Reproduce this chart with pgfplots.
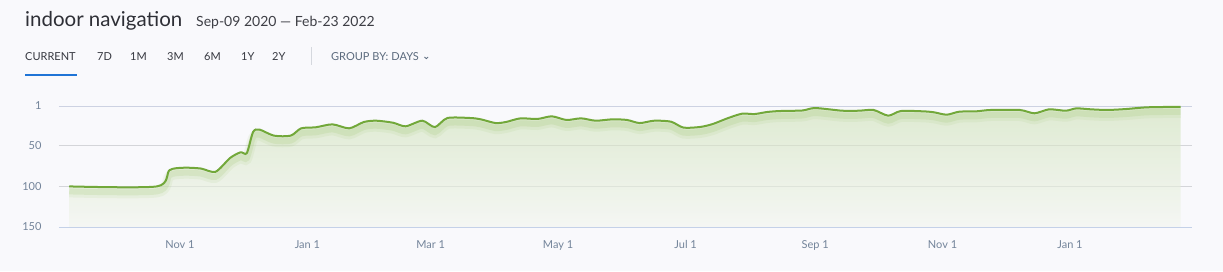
\documentclass[border=0pt]{standalone}
\usepackage{fontspec}
\setmainfont{Lato}
\usepackage{pgfplots}
\usepackage{pgfplotstable}
\pgfplotsset{compat=1.18}
\definecolor{bg}{HTML}{F9F9FC}
\definecolor{linegreen}{HTML}{72A83A}
\definecolor{glowgreen}{HTML}{9CC46A}
\definecolor{titlec}{HTML}{2E2F36}
\definecolor{datec}{HTML}{3E3F46}
\definecolor{tabc}{HTML}{363840}
\definecolor{groupc}{HTML}{5B6A7D}
\definecolor{tickc}{HTML}{73849A}
\definecolor{gridc}{HTML}{D4D5D9}
\definecolor{topgrid}{HTML}{CDD2E2}
\definecolor{basec}{HTML}{C4D1E8}
\definecolor{sepc}{HTML}{D5D8DE}
\definecolor{tabblue}{HTML}{1F74D6}
\definecolor{filltop}{RGB}{205,225,182}
\definecolor{fillbot}{RGB}{242,245,238}
\pgfplotstableread{
day rank
0 100
42 100
48 80
55 77
63 78
70 82
77 65
82 58
85 59
88 33
91 30
98 37.5
106 37.5
111 28.5
118 27.2
126 23.6
134 28.5
141 20.7
147 19.1
155 21.6
161 26
169 19.1
175 27
181 15.8
192 15.8
197 17.4
204 22
209 20.7
216 16.2
224 17
231 13.7
238 18.2
245 16.2
252 19.1
260 17.4
267 18.2
273 22
280 19.1
288 20.3
294 27.6
302 26.8
308 23.2
315 16.2
322 10.5
328 10.9
334 8.4
340 7.2
351 6.5
357 3.5
370 6.8
378 6.8
385 5.9
392 12.9
398 7.2
409 7.6
414 8.8
420 11.7
426 8
434 7.6
441 5.9
455 5.9
462 10
469 5.1
477 6.8
482 3.9
489 5.1
497 5.9
506 4.7
516 2.6
532 2
}\rankdata
\begin{document}
\begin{tikzpicture}
\fill[bg] (0,0) rectangle (1223pt,271pt);
\useasboundingbox (0,0) rectangle (1223pt,271pt);
% header
\node[anchor=base west, inner sep=0, text=titlec, font=\fontsize{20.5}{22}\selectfont] at (25pt,244pt) {indoor navigation};
\node[anchor=base west, inner sep=0, text=datec, font=\fontsize{14}{16}\selectfont] at (196pt,244pt) {Sep-09 2020 — Feb-23 2022};
\begin{scope}[every node/.style={anchor=base west, inner sep=0, text=tabc, font=\fontsize{11}{13}\selectfont}]
\node at (25pt,210pt) {CURRENT};
\node at (97pt,210pt) {7D};
\node at (130pt,210pt) {1M};
\node at (167pt,210pt) {3M};
\node at (204pt,210pt) {6M};
\node at (241pt,210pt) {1Y};
\node at (272pt,210pt) {2Y};
\node[text=groupc] at (331pt,210pt) {GROUP BY:\hspace{3pt}DAYS};
\end{scope}
\draw[groupc, line width=0.8pt] (424.5pt,214pt) -- (426.3pt,212.3pt) -- (428.1pt,214pt);
\fill[tabblue] (25pt,195pt) rectangle (77pt,197pt);
\draw[sepc, line width=1pt] (311pt,206pt) -- (311pt,224pt);
\begin{axis}[
  at={(59pt,44pt)}, anchor=south west,
  width=1133pt, height=121pt, scale only axis,
  xmin=-4.9, xmax=537.4, ymin=1, ymax=150, y dir=reverse,
  axis line style={draw=none},
  major tick length=0,
  xtick={53,114,173,234,295,357,418,479},
  xticklabels={Nov 1,Jan 1,Mar 1,May 1,Jul 1,Sep 1,Nov 1,Jan 1},
  ytick={50,100},
  extra y ticks={1,150},
  extra y tick style={grid=none},
  ymajorgrids,
  major grid style={gridc, line width=1pt},
  /pgf/number format/assume math mode=true,
  tick label style={text=tickc, font=\fontsize{11}{13}\selectfont},
  xticklabel style={anchor=base, yshift=-21pt},
  yticklabel style={anchor=east, xshift=-14pt},
  clip=false,
]
\draw[topgrid, line width=1pt] (axis cs:-4.9,1) -- (axis cs:537.4,1);
\addplot[draw=none, top color=filltop, bottom color=fillbot, fill opacity=0.6, smooth, tension=0.45]
  table[x=day,y=rank] {\rankdata} -- (axis cs:532,150) -- (axis cs:0,150) -- cycle;
\draw[basec, line width=1pt] (axis cs:-4.9,150) -- (axis cs:537.4,150);
\addplot[glowgreen, line width=10pt, opacity=0.10, smooth, tension=0.45, yshift=-6pt] table[x=day,y=rank] {\rankdata};
\addplot[glowgreen, line width=6pt, opacity=0.18, smooth, tension=0.45, yshift=-5pt] table[x=day,y=rank] {\rankdata};
\addplot[linegreen, line width=2pt, smooth, tension=0.45] table[x=day,y=rank] {\rankdata};
\end{axis}
\end{tikzpicture}
\end{document}
